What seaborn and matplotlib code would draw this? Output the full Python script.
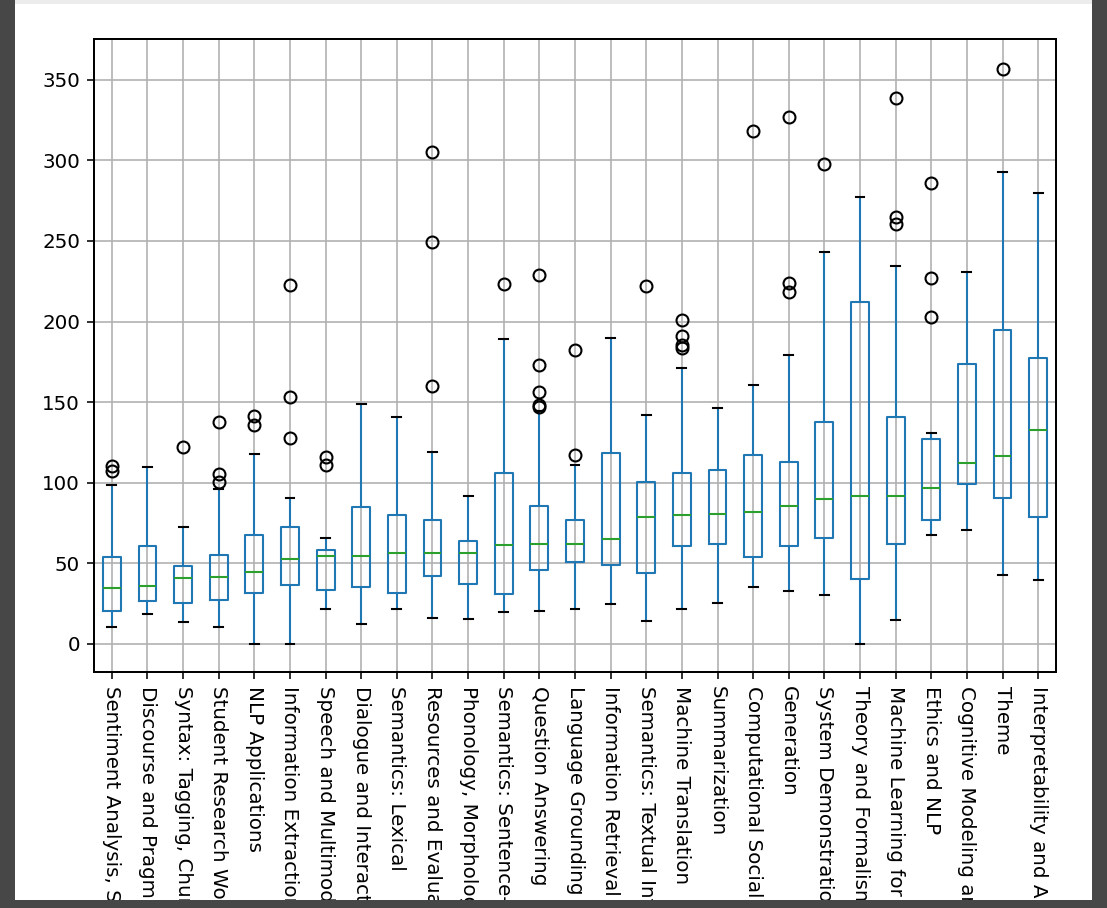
import numpy as np
import pandas as pd
import matplotlib
matplotlib.use("Agg")
import matplotlib.pyplot as plt
from matplotlib.patches import Rectangle
import seaborn as sns

categories = [
    "Sentiment Analysis, Stylistic Analysis, and Argument Mining",
    "Discourse and Pragmatics",
    "Syntax: Tagging, Chunking and Parsing",
    "Student Research Workshop",
    "NLP Applications",
    "Information Extraction",
    "Speech and Multimodality",
    "Dialogue and Interactive Systems",
    "Semantics: Lexical",
    "Resources and Evaluation",
    "Phonology, Morphology and Word Segmentation",
    "Semantics: Sentence-level Semantics",
    "Question Answering",
    "Language Grounding to Vision, Robotics and Beyond",
    "Information Retrieval and Text Mining",
    "Semantics: Textual Inference and Other Areas",
    "Machine Translation",
    "Summarization",
    "Computational Social Science and Social Media",
    "Generation",
    "System Demonstrations",
    "Theory and Formalism in NLP",
    "Machine Learning for NLP",
    "Ethics and NLP",
    "Cognitive Modeling and Psycholinguistics",
    "Theme",
    "Interpretability and Analysis of Models for NLP",
]

whisker_low = [10.4, 18.7, 13.5, 10.4, 0, 0, 21.6, 12.4, 21.6, 16.2, 15.4, 19.5, 20.5, 21.4,
               24.7, 14.3, 21.4, 25.5, 34.9, 32.5, 30.5, 0, 14.6, 67.5, 70.8, 42.7, 39.4]
q1_values = [20.3, 26.6, 25.3, 26.8, 31.3, 36.3, 33.4, 35.3, 31.3, 41.9, 36.9, 30.7, 45.5, 50.5,
             49.0, 44.0, 60.6, 62.0, 54.1, 60.6, 65.4, 39.9, 62.1, 77.0, 98.9, 90.4, 78.4]
medians = [34.6, 35.7, 40.7, 41.5, 44.6, 52.7, 54.6, 54.6, 56.4, 56.4, 56.4, 61.0, 62.0, 62.0,
           64.7, 78.6, 80.1, 80.5, 81.5, 85.4, 89.5, 91.9, 91.9, 96.9, 112.2, 116.6, 132.9]
q3_values = [53.5, 60.6, 48.3, 55.2, 67.6, 72.4, 58.1, 85.0, 80.1, 76.6, 63.7, 106.2, 85.5, 76.6,
             118.3, 100.4, 106.2, 107.7, 117.4, 113.0, 137.7, 212.2, 141.0, 127.0, 173.9, 194.6, 177.6]
whisker_high = [98.8, 109.5, 72.6, 95.9, 117.8, 90.7, 65.6, 149.0, 140.9, 118.7, 91.7, 189.0, 144.2,
                111.2, 189.8, 141.9, 171.0, 146.0, 160.8, 179.3, 243.4, 277.6, 234.6, 130.5, 230.5,
                292.8, 280.0]
outliers = [
    [107, 110], [], [122], [100.6, 105.4, 137.8], [135.7, 141.5], [127.8, 153.1, 222.8],
    [110.8, 115.6], [], [], [160.2, 249.5, 305.3], [], [223], [147, 148.3, 156.4, 173, 229],
    [117.2, 182.2], [], [222.2], [183.8, 185.5, 191, 201], [], [318.4], [218.3, 223.7, 327],
    [297.8], [], [260.5, 264.7, 338.8], [203, 226.8, 286.1], [], [356.8], [],
]


def sample_values(lo, a, m, b, hi, fl):
    # ordered sample whose quartiles / whiskers / outliers are the values read above
    k = 6
    top = 4 * k - len(fl)
    return [lo] * k + [a] * k + [m] * k + [b] * (top - 3 * k) + [hi] + sorted(fl)


rows = []
for i, cat in enumerate(categories):
    for v in sample_values(whisker_low[i], q1_values[i], medians[i], q3_values[i],
                           whisker_high[i], outliers[i]):
        rows.append((cat, v))
df = pd.DataFrame(rows, columns=["category", "value"])

S = 1.1  # scale relative to matplotlib defaults
plt.rcParams.update({
    "font.size": 11,
    "xtick.major.size": 3.5 * S,
    "ytick.major.size": 3.5 * S,
    "xtick.major.width": 0.8 * S,
    "ytick.major.width": 0.8 * S,
    "xtick.major.pad": 3.5 * S,
    "ytick.major.pad": 3.5 * S,
})

DPI = 130
fig = plt.figure(figsize=(1107 / DPI, 908 / DPI), dpi=DPI, facecolor="white")
ax = fig.add_axes([94 / 1107, 1 - 672 / 908, (1056 - 94) / 1107, (672 - 39) / 908])

blue = "#1f77b4"
sns.boxplot(
    data=df, x="category", y="value", order=categories, ax=ax,
    fill=False, width=0.5, linewidth=1.15, whis=1.5, color=blue,
    boxprops=dict(color=blue),
    whiskerprops=dict(color=blue),
    capprops=dict(color="black"),
    medianprops=dict(color="#2ca02c"),
    flierprops=dict(marker="o", markerfacecolor="none", markeredgecolor="black",
                    markersize=6.6, markeredgewidth=1.15),
)

ax.grid(True, color="#b0b0b0", linewidth=0.9)
ax.set_axisbelow(True)
ax.set_xlabel("")
ax.set_ylabel("")
ax.set_xticks(range(len(categories)))
ax.set_xticklabels(categories, rotation=-90, ha="center", va="top")
ax.set_yticks([0, 50, 100, 150, 200, 250, 300, 350])
ax.set_xlim(-0.5, len(categories) - 0.5)
ax.set_ylim(-17.6, 375.4)
for s in ax.spines.values():
    s.set_color("black")
    s.set_linewidth(1.1)

# screenshot frame around the figure
W, H = 1107, 908
dark = "#474747"
def frame(x0, y0, w, h, c):
    fig.add_artist(Rectangle((x0 / W, 1 - (y0 + h) / H), w / W, h / H,
                             transform=fig.transFigure, facecolor=c, edgecolor="none",
                             zorder=20))
frame(0, 0, W, 4, "#ececec")
frame(0, 0, 15, H, dark)
frame(1092, 0, 15, H, dark)
frame(0, 900, W, 8, dark)

fig.savefig("out.png", dpi=DPI, facecolor="white")
